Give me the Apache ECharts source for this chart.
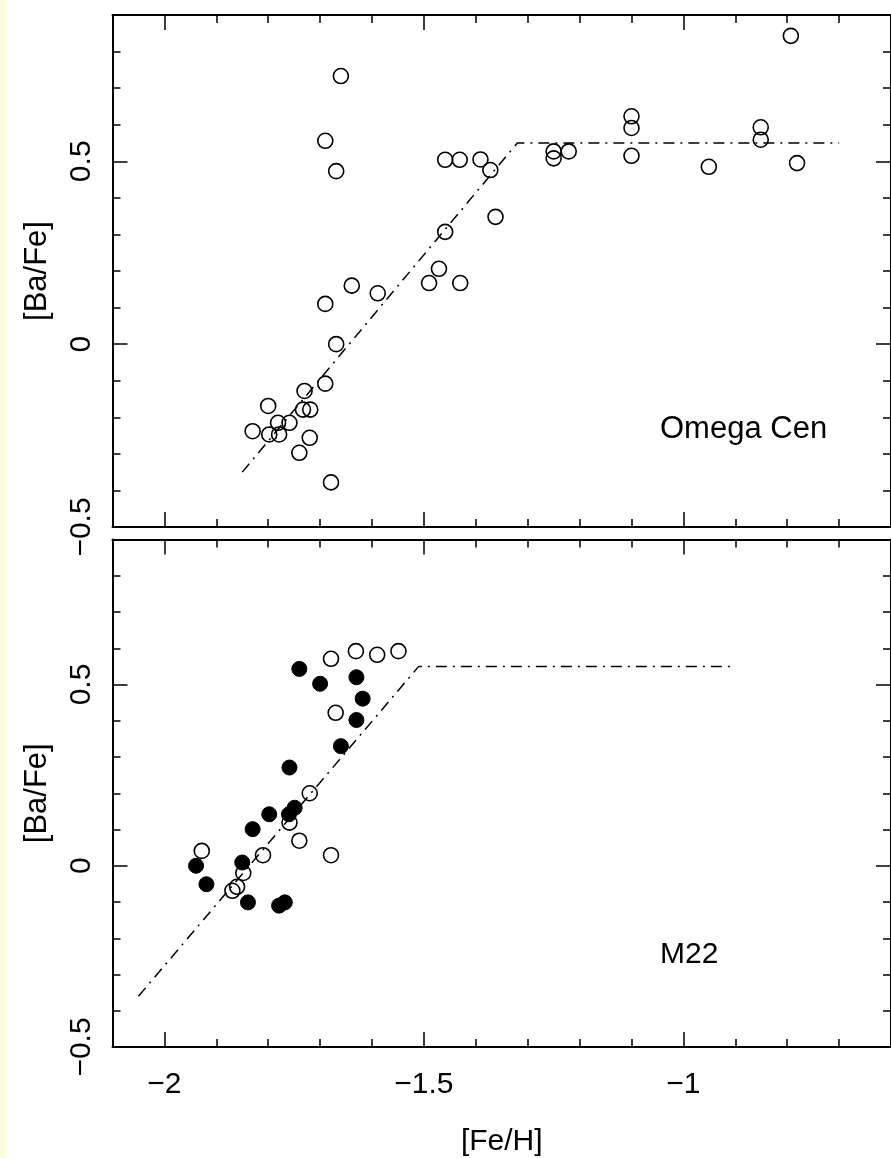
<!DOCTYPE html>
<html>
<head>
<meta charset="utf-8">
<script src="https://cdn.jsdelivr.net/npm/echarts@6/dist/echarts.min.js"></script>
<style>
  html, body { margin: 0; padding: 0; background: #ffffff; }
  #chart { width: 891px; height: 1158px; }
</style>
</head>
<body>
<div id="chart"></div>
<script>
// ---- Data ----
// Omega Cen panel: open circles
const omegaFe = [-1.660, -1.690, -1.669, -1.459, -1.431, -1.391, -1.372, -1.362, -1.459, -1.471,
                 -1.490, -1.430, -1.639, -1.589, -1.690, -1.669, -1.690, -1.730, -1.800, -1.733,
                 -1.719, -1.781, -1.759, -1.830, -1.798, -1.779, -1.720, -1.740, -1.679, -1.250,
                 -1.250, -1.221, -1.100, -1.100, -1.100, -0.951, -0.851, -0.851, -0.793, -0.781];
const omegaBa = [0.733, 0.556, 0.473, 0.504, 0.504, 0.505, 0.476, 0.348, 0.307, 0.206,
                 0.167, 0.167, 0.160, 0.139, 0.110, 0.000, -0.108, -0.128, -0.169, -0.179,
                 -0.179, -0.215, -0.215, -0.238, -0.247, -0.247, -0.256, -0.297, -0.378, 0.527,
                 0.508, 0.527, 0.623, 0.591, 0.515, 0.485, 0.593, 0.559, 0.843, 0.495];
// M22 panel: open circles
const m22OpenFe = [-1.928, -1.810, -1.848, -1.860, -1.869, -1.759, -1.740, -1.720, -1.679, -1.670,
                   -1.679, -1.631, -1.590, -1.549];
const m22OpenBa = [0.041, 0.029, -0.020, -0.058, -0.069, 0.119, 0.069, 0.200, 0.029, 0.422,
                   0.571, 0.592, 0.582, 0.592];
// M22 panel: filled circles
const m22FilledFe = [-1.939, -1.919, -1.850, -1.839, -1.779, -1.768, -1.830, -1.798, -1.760, -1.749,
                     -1.759, -1.660, -1.630, -1.618, -1.630, -1.700, -1.740];
const m22FilledBa = [0.000, -0.051, 0.009, -0.101, -0.110, -0.101, 0.101, 0.142, 0.142, 0.160,
                     0.271, 0.330, 0.402, 0.461, 0.520, 0.502, 0.543];
// dash-dot model lines
const fitOmegaFe = [-1.85, -1.32, -0.70];
const fitOmegaBa = [-0.35, 0.55, 0.55];
const fitM22Fe = [-2.05, -1.51, -0.90];
const fitM22Ba = [-0.36, 0.55, 0.55];
// axes
const feMin = -2.1, feMax = -0.6;
const baMin = -0.5, baMax = 0.9;
const xTitle = '[Fe/H]';
const yTitle = '[Ba/Fe]';
const panelLabels = ['Omega Cen', 'M22'];

const pairs = (xs, ys) => xs.map((x, i) => [x, ys[i]]);
const FONT = 'Liberation Sans';
const minus = v => String(v).replace('-', '\u2212');

const lineBlack = { color: '#000', width: 2 };
const tickStyle = { color: '#000', width: 1.5 };

function xAxisFor(grid, pos, labels) {
  return {
    type: 'value', gridIndex: grid, position: pos, min: feMin, max: feMax, splitNumber: 3,
    axisLine: { show: true, onZero: false, lineStyle: lineBlack },
    axisTick: { show: true, inside: true, length: 15, lineStyle: tickStyle },
    minorTick: { show: true, splitNumber: 5, length: 8, lineStyle: tickStyle },
    splitLine: { show: false }, minorSplitLine: { show: false },
    axisLabel: { show: labels, showMinLabel: false, showMaxLabel: false, margin: 23,
                 fontFamily: FONT, fontSize: 30, color: '#000', formatter: minus },
    name: labels ? xTitle : '', nameLocation: 'middle', nameGap: 80,
    nameTextStyle: { fontFamily: FONT, fontSize: 30, color: '#000' }
  };
}
function yAxisFor(grid, pos, labels) {
  return {
    type: 'value', gridIndex: grid, position: pos, min: baMin, max: baMax, interval: 0.5,
    axisLine: { show: true, onZero: false, lineStyle: lineBlack },
    axisTick: { show: true, inside: true, length: 15, lineStyle: tickStyle },
    minorTick: { show: true, splitNumber: 5, length: 8, lineStyle: tickStyle },
    splitLine: { show: false }, minorSplitLine: { show: false },
    axisLabel: { show: labels, rotate: 90, showMaxLabel: false, margin: 16,
                 fontFamily: FONT, fontSize: 30, color: '#000', formatter: minus },
    name: labels ? yTitle : '', nameLocation: 'middle', nameGap: 60, nameRotate: 90,
    nameTextStyle: { fontFamily: FONT, fontSize: 31, color: '#000' }
  };
}

const openStyle = { color: 'rgba(0,0,0,0)', borderColor: '#000', borderWidth: 1.6, opacity: 1 };
const filledStyle = { color: '#000', borderColor: '#000', borderWidth: 1, opacity: 1 };
const fitLine = { color: '#000', width: 1.5, type: [11, 6, 2, 6] };

const chart = echarts.init(document.getElementById('chart'), null, { renderer: 'canvas' });
chart.setOption({
  backgroundColor: '#ffffff',
  animation: false,
  grid: [
    { left: 112.5, top: 15, width: 780, height: 512 },
    { left: 112.5, top: 539.5, width: 780, height: 512 }
  ],
  xAxis: [xAxisFor(0, 'bottom', false), xAxisFor(0, 'top', false),
          xAxisFor(1, 'bottom', true), xAxisFor(1, 'top', false)],
  yAxis: [yAxisFor(0, 'left', true), yAxisFor(0, 'right', false),
          yAxisFor(1, 'left', true), yAxisFor(1, 'right', false)],
  graphic: [
    { type: 'rect', left: 0, top: 0, shape: { width: 7, height: 1158 }, style: { fill: '#fdfde0' } },
    { type: 'text', left: 660, top: 414, style: { text: panelLabels[0], font: '31px "Liberation Sans"', fill: '#000' } },
    { type: 'text', left: 660, top: 940, style: { text: panelLabels[1], font: '30px "Liberation Sans"', fill: '#000' } }
  ],
  series: [
    { type: 'line', xAxisIndex: 0, yAxisIndex: 0, data: pairs(fitOmegaFe, fitOmegaBa),
      symbol: 'none', lineStyle: fitLine, z: 1 },
    { type: 'scatter', xAxisIndex: 0, yAxisIndex: 0, data: pairs(omegaFe, omegaBa),
      symbol: 'circle', symbolSize: 15, itemStyle: openStyle, z: 2 },
    { type: 'line', xAxisIndex: 2, yAxisIndex: 2, data: pairs(fitM22Fe, fitM22Ba),
      symbol: 'none', lineStyle: fitLine, z: 1 },
    { type: 'scatter', xAxisIndex: 2, yAxisIndex: 2, data: pairs(m22OpenFe, m22OpenBa),
      symbol: 'circle', symbolSize: 15, itemStyle: openStyle, z: 2 },
    { type: 'scatter', xAxisIndex: 2, yAxisIndex: 2, data: pairs(m22FilledFe, m22FilledBa),
      symbol: 'circle', symbolSize: 15, itemStyle: filledStyle, z: 3 }
  ]
});
</script>
</body>
</html>
